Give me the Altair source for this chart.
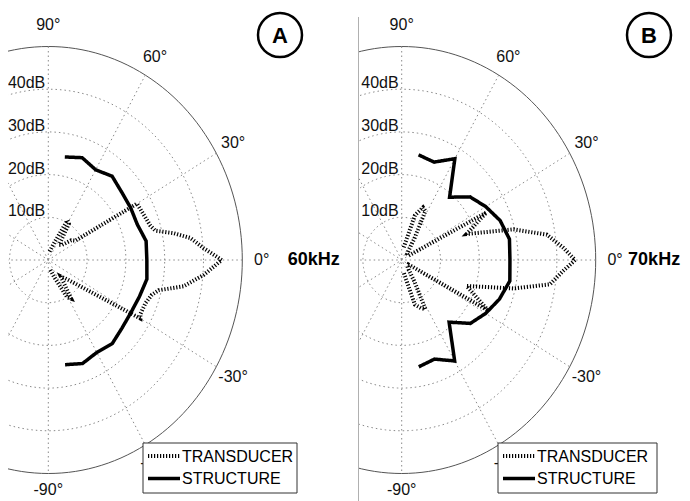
import altair as alt
import numpy as np
import pandas as pd

# ---------------- data ----------------
SERIES = ["TRANSDUCER", "STRUCTURE"]

STRUCT_ANG = [-80, -70, -60, -50, -40, -30, -20, -10, 0, 10, 20, 30, 40, 50, 60, 70, 80]
STRUCT_A = [24.9, 25.8, 25.0, 25.6, 24.8, 24.6, 25.0, 25.8, 25.4, 25.6, 24.4, 24.5, 24.7, 25.6, 24.4, 25.5, 24.5]
STRUCT_B = [25.4, 24.7, 27.3, 19.0, 23.1, 25.0, 26.8, 28.3, 27.9, 28.2, 27.0, 25.0, 23.0, 19.2, 27.4, 24.4, 25.0]

TRANS_A_ANG = [80, 70, 62, 58, 52, 45, 38, 33, 30, 22, 17, 14, 11, 8, 4, 0,
               -5, -10, -14, -17, -22, -28, -30, -43, -50, -57, -61, -70, -80]
TRANS_A = [2.0, 4.0, 10.5, 10.0, 4.5, 5.0, 7.5, 8.3, 26.4, 26.9, 27.5, 28.4, 32.9, 37.0, 40.1, 44.7,
           40.2, 35.4, 29.3, 27.9, 27.0, 26.9, 27.4, 6.6, 5.0, 10.8, 10.0, 4.0, 2.0]

TRANS_B_ANG = [80, 72, 66, 62, 57, 52, 45, 35, 30, 27, 20, 14, 9, 4, 0,
               -3.5, -8.5, -13, -20, -28, -31, -40, -52, -57, -62, -66, -72, -80]
TRANS_B = [3.0, 11.0, 13.5, 13.0, 6.0, 3.0, 2.0, 2.0, 2.0, 24.5, 17.8, 29.7, 37.9, 41.7, 44.7,
           41.7, 38.6, 29.6, 17.8, 25.3, 2.0, 2.0, 3.0, 6.0, 13.0, 12.4, 11.0, 3.0]

RINGS = [10, 20, 30, 40]
OUTER = 50
SPOKES = [0, 30, 60, 90, 120, 150]
ANGLE_LABELS = [90, 60, 30, 0, -30, -60, -90]
DB_LABELS = [10, 20, 30, 40]
PANELS = ["A", "B"]
FREQS = ["60kHz", "70kHz"]

# ---------------- layout / style ----------------
KX = 194 / 50.0      # px per dB, horizontal
KY = 213.5 / 50.0    # px per dB, vertical
H = 485
W_A, W_B = 342, 324
CX_A, CX_B = 40.3, 43.7   # centre of the polar plot inside each panel
CY = 243
FONT = "Liberation Sans"
GRID = "#8a8a8a"
DASH = {"TRANSDUCER": [1.2, 1.8], "STRUCTURE": [1, 0]}
WIDTH = {"TRANSDUCER": 4, "STRUCTURE": 3.5}
LEG_TOP = 426

POLAR = dict(x="datum.r*cos(datum.a*PI/180)", y="datum.r*sin(datum.a*PI/180)")


def legend_layers(box_x, box_w, sym_x, txt_x):
    one = pd.DataFrame({"k": [0]})
    layers = [alt.Chart(one).mark_rect(fill="white", stroke="#333333", strokeWidth=1).encode(
        x=alt.value(box_x), x2=alt.value(box_x + box_w), y=alt.value(LEG_TOP), y2=alt.value(LEG_TOP + 50))]
    for i, s in enumerate(SERIES):
        yy = LEG_TOP + 13 + 22.5 * i
        layers.append(alt.Chart(one).mark_rule(
            color="black", strokeDash=DASH[s], strokeWidth=WIDTH[s]).encode(
            x=alt.value(sym_x), x2=alt.value(sym_x + 32), y=alt.value(yy)))
        layers.append(alt.Chart(pd.DataFrame({"t": [s]})).mark_text(
            font=FONT, fontSize=16, color="black", align="left", baseline="middle").encode(
            x=alt.value(txt_x), y=alt.value(yy + 0.5), text="t:N"))
    return layers


def panel(width, cx, trans_ang, trans_val, struct_val, letter, freq, freq_dx, letter_x, leg, edge_line):
    xs = alt.Scale(domain=[-cx / KX, (width - cx) / KX], nice=False, zero=False)
    ys = alt.Scale(domain=[-(H - CY) / KY, CY / KY], nice=False, zero=False)
    X = alt.X("x:Q", scale=xs, axis=None)
    Y = alt.Y("y:Q", scale=ys, axis=None)

    sweep = np.arange(0, 361, 2)
    ring_df = pd.DataFrame([(r, a) for r in RINGS + [OUTER] for a in sweep], columns=["r", "a"])
    base_ring = alt.Chart(ring_df).transform_calculate(**POLAR)
    rings = base_ring.transform_filter(f"datum.r < {OUTER}").mark_line(
        color=GRID, strokeWidth=1, strokeDash=[1.5, 3], clip=True
    ).encode(x=X, y=Y, detail="r:N", order="a:Q")
    outer = base_ring.transform_filter(f"datum.r == {OUTER}").mark_line(
        color="#555555", strokeWidth=1, clip=True
    ).encode(x=X, y=Y, order="a:Q")

    spoke_df = pd.DataFrame({"a": SPOKES, "r": OUTER})
    spokes = alt.Chart(spoke_df).transform_calculate(
        x="datum.r*cos(datum.a*PI/180)", y="datum.r*sin(datum.a*PI/180)",
        x2="-datum.r*cos(datum.a*PI/180)", y2="-datum.r*sin(datum.a*PI/180)"
    ).mark_rule(color=GRID, strokeWidth=1, strokeDash=[1.5, 3], clip=True).encode(
        x=X, y=Y, x2="x2:Q", y2="y2:Q")

    alab_df = pd.DataFrame({"a": ANGLE_LABELS, "r": 55.0,
                            "t": [f"{a}\u00b0" for a in ANGLE_LABELS]})
    alab_base = alt.Chart(alab_df).transform_calculate(**POLAR)
    alabels = alab_base.transform_filter("datum.a > -90").mark_text(
        font=FONT, fontSize=16, color="#111111", align="center", baseline="middle", clip=True
    ).encode(x=X, y=Y, text="t:N")
    alabel_bottom = alab_base.transform_filter("datum.a == -90").mark_text(
        font=FONT, fontSize=16, color="#111111", align="center", baseline="middle", dy=-5, clip=True
    ).encode(x=X, y=Y, text="t:N")

    dlab_df = pd.DataFrame({"a": 90, "r": DB_LABELS, "t": [f"{d}dB" for d in DB_LABELS]})
    dlabels = alt.Chart(dlab_df).transform_calculate(**POLAR).mark_text(
        font=FONT, fontSize=16, color="#111111", align="right", baseline="alphabetic", dx=-3, dy=-1, clip=True
    ).encode(x=X, y=Y, text="t:N")

    rows = []
    for i, (a, r) in enumerate(zip(trans_ang, trans_val)):
        rows.append(("TRANSDUCER", i, a, r))
    for i, (a, r) in enumerate(zip(STRUCT_ANG, struct_val)):
        rows.append(("STRUCTURE", i, a, r))
    line_df = pd.DataFrame(rows, columns=["series", "idx", "a", "r"])
    lines = alt.Chart(line_df).transform_calculate(**POLAR).mark_line(
        color="black", clip=True
    ).encode(
        x=X, y=Y, order="idx:Q",
        strokeDash=alt.StrokeDash("series:N", scale=alt.Scale(
            domain=SERIES, range=[DASH[s] for s in SERIES]), legend=None),
        strokeWidth=alt.StrokeWidth("series:N", scale=alt.Scale(
            domain=SERIES, range=[WIDTH[s] for s in SERIES]), legend=None),
    )

    lab_df = pd.DataFrame({"t": [letter]})
    circ = alt.Chart(lab_df).mark_point(
        shape="circle", size=44 * 44, filled=False, color="black", strokeWidth=2.5, opacity=1
    ).encode(x=alt.value(letter_x), y=alt.value(18))
    ltxt = alt.Chart(lab_df).mark_text(
        font=FONT, fontSize=22, fontWeight="bold", color="black", align="center", baseline="middle"
    ).encode(x=alt.value(letter_x), y=alt.value(19), text="t:N")

    f_df = pd.DataFrame({"a": [0], "r": [55.0], "t": [freq]})
    ftxt = alt.Chart(f_df).transform_calculate(**POLAR).mark_text(
        font=FONT, fontSize=18, fontWeight="bold", color="black", align="left", baseline="middle",
        dx=freq_dx, clip=True
    ).encode(x=X, y=Y, text="t:N")

    layers = [rings, outer, spokes, alabels, alabel_bottom, dlabels, lines] + legend_layers(*leg) + [circ, ltxt, ftxt]
    if edge_line:
        edge = alt.Chart(lab_df).mark_rule(color="#b0b0b0", strokeWidth=1).encode(
            x=alt.value(0.5), y=alt.value(0), y2=alt.value(H))
        layers.append(edge)
    return alt.layer(*layers).properties(width=width, height=H)


pa = panel(W_A, CX_A, TRANS_A_ANG, TRANS_A, STRUCT_A, PANELS[0], FREQS[0], 26, 272,
           (135, 154, 140, 174), False)
pb = panel(W_B, CX_B, TRANS_B_ANG, TRANS_B, STRUCT_B, PANELS[1], FREQS[1], 13, 291,
           (140, 159, 145, 179), True)

chart = alt.hconcat(pa, pb, spacing=8).resolve_scale(
    x="independent", y="independent", strokeDash="independent", strokeWidth="independent"
).properties(padding=0, background="white").configure_view(stroke=None)

chart.save("out.html", embed_options={"renderer": "svg", "actions": False})
